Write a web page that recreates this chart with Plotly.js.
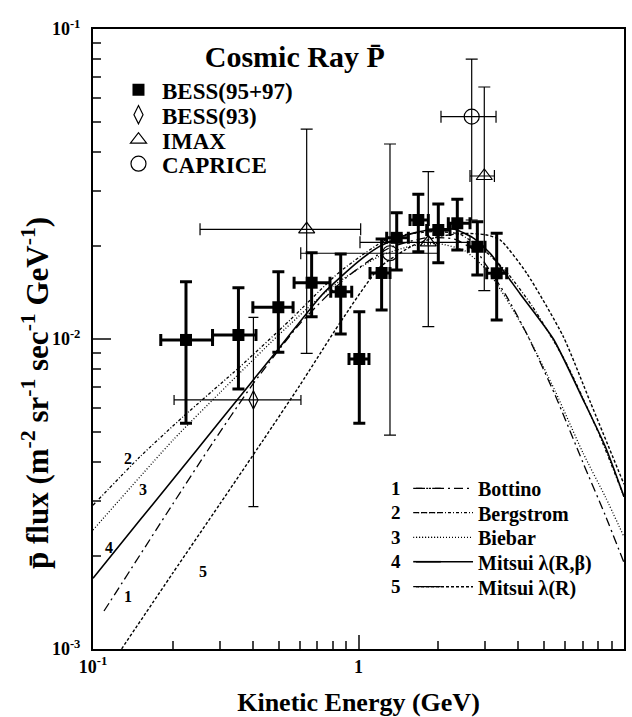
<!DOCTYPE html>
<html><head><meta charset="utf-8">
<script src="https://cdn.plot.ly/plotly-3.0.1.min.js"></script>
<style>body{margin:0;background:#fff}#chart{width:632px;height:717px}</style>
</head><body><div id="chart"></div>
<script>
// ---- BESS(95+97) ----
const bessE   = [0.224,0.353,0.499,0.666,0.857,1.007,1.222,1.393,1.680,1.998,2.356,2.803,3.315];
const bessElo = [0.180,0.282,0.400,0.572,0.786,0.921,1.105,1.277,1.563,1.807,2.179,2.592,3.040];
const bessEhi = [0.282,0.411,0.567,0.781,0.943,1.095,1.314,1.541,1.832,2.211,2.630,2.996,3.616];
const bessF   = [0.00993,0.01030,0.01266,0.01519,0.01421,0.00862,0.01633,0.02120,0.02420,0.02247,0.02362,0.01984,0.01629];
const bessFlo = [0.00535,0.00690,0.00906,0.01180,0.01038,0.00535,0.01241,0.01669,0.01913,0.01762,0.01937,0.01608,0.01151];
const bessFhi = [0.01530,0.01464,0.01649,0.01899,0.01880,0.01225,0.02100,0.02555,0.02930,0.02726,0.02822,0.02390,0.02193];
// ---- BESS(93) ----
const b93E = [0.402], b93Elo = [0.202], b93Ehi = [0.607];
const b93F = [0.00636], b93Flo = [0.00288], b93Fhi = [0.01175];
// ---- IMAX ----
const imaxE = [0.638,1.832,2.977], imaxElo = [0.253,1.013,2.630], imaxEhi = [1.019,2.630,3.250];
const imaxF = [0.02259,0.02051,0.03356], imaxFlo = [0.00899,0.01096,0.01432], imaxFhi = [0.04757,0.03465,0.06500];
// ---- CAPRICE ----
const capE = [1.314,2.669], capElo = [0.606,2.045], capEhi = [1.993,3.296];
const capF = [0.01891,0.05216], capFlo = [0.00490,0.02420], capFhi = [0.04256,0.08000];

// ---- model curves ----
const botE = [0.11,0.1159,0.2,0.2711,0.4,0.6,0.9,1.3,1.8,2.3,2.8,3.04,3.6,4.3,5.5,7,8.5,10];
const botF = [0.001326,0.001421,0.00294,0.004385,0.00715,0.01117,0.01578,0.01962,0.0212,0.0210,0.0190,0.0172,0.0138,0.0104,0.0066,0.0040,0.0027,0.0019];
const bergE = [0.1,0.1503,0.2188,0.3578,0.5521,0.8518,1.314,1.9,2.4,3.0,3.6,4.5,6,8,10];
const bergF = [0.00291,0.00417,0.00562,0.00814,0.01151,0.01649,0.0212,0.0222,0.0218,0.0192,0.0165,0.0128,0.0085,0.0050,0.0031];
const biebE = [0.1,0.2001,0.3,0.5,0.8,1.2,1.6,2.0,2.5,3.04,3.6,4.3,5.5,7,8.5,10];
const biebF = [0.00242,0.00472,0.0067,0.0103,0.0148,0.0185,0.0200,0.0203,0.0193,0.0167,0.0135,0.0104,0.0068,0.0043,0.0031,0.0023];
const mrbE = [0.1,0.15,0.2,0.3,0.5,0.735,1.0,1.2,1.5,1.9,2.3,2.7,3.13,4.06,5.42,7.0,8.5,10];
const mrbF = [0.00169,0.00260,0.00352,0.00542,0.00930,0.01400,0.01780,0.0199,0.0216,0.0226,0.0226,0.0212,0.0189,0.0140,0.0100,0.0064,0.0045,0.0031];
const mrE = [0.125,0.2,0.3,0.4377,0.6,0.85,1.2,1.6,2.0,2.5,3.0,3.41,4.3,5.9,7.5,10];
const mrF = [0.00097,0.00176,0.00293,0.00472,0.00707,0.01125,0.0170,0.0200,0.0214,0.0219,0.0217,0.0209,0.0163,0.0102,0.0062,0.0034];

// ---- ticks ----
const xTickVals = [0.1,1,10];
const xTickText = ['<b>10<sup>-1</sup></b>','<b>1</b>','<b>10</b>'];
const yTickVals = [0.001,0.01,0.1];
const yTickText = ['<b>10<sup>-3</sup></b>','<b>10<sup>-2</sup></b>','<b>10<sup>-1</sup></b>'];
const xMinor = [0.2,0.3,0.4,0.5,0.6,0.7,0.8,0.9,2,3,4,5,6,7,8,9];
const yMinor = [0.002,0.003,0.004,0.005,0.006,0.007,0.008,0.009,0.02,0.03,0.04,0.05,0.06,0.07,0.08,0.09];

const curveNums = ['1','2','3','4','5'];
const curveNames = ['Bottino','Bergstrom','Biebar','Mitsui \u03bb(R,\u03b2)','Mitsui \u03bb(R)'];
const curveDash = ['9px,4px,2px,4px','3px,2px,1px,2px','1px,2px','solid','3px,2px'];

function up(v, hi){ return hi.map((h,i)=>h-v[i]); }
function dn(v, lo){ return lo.map((l,i)=>v[i]-l); }

function pts(name, lg, E, Elo, Ehi, F, Flo, Fhi, marker, thick, cap){
  return {
    type:'scatter', mode:'markers', name:'<b>'+name+'</b>', x:E, y:F, legend:lg,
    marker: marker, cliponaxis:false,
    error_x:{type:'data', symmetric:false, array:up(E,Ehi), arrayminus:dn(E,Elo), color:'#000', thickness:thick, width:cap},
    error_y:{type:'data', symmetric:false, array:up(F,Fhi), arrayminus:dn(F,Flo), color:'#000', thickness:thick, width:cap}
  };
}
function curve(i, E, F, w){
  return {type:'scatter', mode:'lines', name:'<b>'+curveNames[i]+'</b>', x:E, y:F, legend:'legend'+(5+i),
    line:{color:'#000', width:w, dash:curveDash[i], shape:'spline', smoothing:0.6}};
}

const data = [
  curve(0, botE, botF, 1.3),
  curve(1, bergE, bergF, 1.3),
  curve(2, biebE, biebF, 1.3),
  curve(3, mrbE, mrbF, 1.6),
  curve(4, mrE, mrF, 1.4),
  pts('BESS(95+97)', 'legend', bessE, bessElo, bessEhi, bessF, bessFlo, bessFhi, {symbol:'square', size:12, color:'#000'}, 3, 6),
  pts('BESS(93)', 'legend2', b93E, b93Elo, b93Ehi, b93F, b93Flo, b93Fhi, {symbol:'diamond-tall-open', size:13, color:'#000', line:{width:1.2}}, 1.2, 5),
  pts('IMAX', 'legend3', imaxE, imaxElo, imaxEhi, imaxF, imaxFlo, imaxFhi, {symbol:'triangle-up-open', size:14, color:'#000', line:{width:1.2}}, 1.2, 6),
  pts('CAPRICE', 'legend4', capE, capElo, capEhi, capF, capFlo, capFhi, {symbol:'circle-open', size:15, color:'#000', line:{width:1.2}}, 1.2, 6)
];

// row positions (paper) for the curve key and marker key
const keyRows = [0.2592,0.2198,0.1802,0.1408,0.1005];
const mkRows = [0.9021,0.8617,0.8214,0.7827];

const annotations = curveNums.map((n,i)=>({xref:'paper', yref:'paper', x:0.571, y:keyRows[i], text:'<b>'+n+'</b>', showarrow:false, font:{size:19}, xanchor:'center', yanchor:'middle'}));
const lblPos = [[0.0659,0.0839],[0.0659,0.308],[0.0942,0.2565],[0.0301,0.1645],[0.2072,0.1242]];
curveNums.forEach((n,i)=>annotations.push({xref:'paper', yref:'paper', x:lblPos[i][0], y:lblPos[i][1], text:'<b>'+n+'</b>', showarrow:false, font:{size:16}, xanchor:'center', yanchor:'middle'}));
// y axis title (placed as in the original figure, below the axis centre)
annotations.push({xref:'paper', yref:'paper', x:-0.1092, y:0.4129, xanchor:'center', yanchor:'middle', textangle:-90, showarrow:false,
  text:'<b>p\u0304 flux (m<sup>-2</sup> sr<sup>-1</sup> sec<sup>-1</sup> GeV<sup>-1</sup>)</b>', font:{size:31}});

// extensions of the key line samples (key samples are longer than plotly's)
const shapes = curveNums.map((n,i)=>({type:'line', xref:'paper', yref:'paper', x0:0.603, x1:0.655, y0:keyRows[i], y1:keyRows[i], line:{color:'#000', width:i===3?1.6:1.3, dash:curveDash[i]}}));

const axisCommon = {type:'log', tickmode:'array', ticks:'inside', tickwidth:2, showline:true, linewidth:2, linecolor:'#000', mirror:true, showgrid:false, zeroline:false, tickfont:{size:18}};

const mkLegend = (y)=>({x:0.0414, y:y, xanchor:'left', yanchor:'middle', font:{size:23}, bgcolor:'rgba(0,0,0,0)', borderwidth:0, itemwidth:37});
const cvLegend = (y)=>({x:0.5989, y:y, xanchor:'left', yanchor:'middle', font:{size:20}, bgcolor:'rgba(0,0,0,0)', borderwidth:0, itemwidth:57});

const layout = {
  width:632, height:717,
  margin:{l:93, r:8, t:29, b:68},
  paper_bgcolor:'#fff', plot_bgcolor:'#fff',
  font:{family:'"Liberation Serif","Times New Roman",serif', color:'#000', size:18},
  title:{text:'<b>Cosmic Ray P\u0304</b>', font:{size:30}, xref:'paper', yref:'paper', x:0.38, xanchor:'center', y:0.955, yanchor:'middle'},
  xaxis:Object.assign({}, axisCommon, {range:[-1,1], tickvals:xTickVals, ticktext:xTickText, ticklen:14,
    minor:{tickmode:'array', tickvals:xMinor, ticks:'inside', ticklen:8, tickwidth:2, showgrid:false},
    title:{text:'<b>Kinetic Energy (GeV)</b>', font:{size:26}, standoff:20}}),
  yaxis:Object.assign({}, axisCommon, {range:[-3,-1], tickvals:yTickVals, ticktext:yTickText, ticklen:18, ticklabelstandoff:7,
    minor:{tickmode:'array', tickvals:yMinor, ticks:'inside', ticklen:8, tickwidth:2, showgrid:false}}),
  legend:mkLegend(mkRows[0]), legend2:mkLegend(mkRows[1]), legend3:mkLegend(mkRows[2]), legend4:mkLegend(mkRows[3]),
  legend5:cvLegend(keyRows[0]), legend6:cvLegend(keyRows[1]), legend7:cvLegend(keyRows[2]), legend8:cvLegend(keyRows[3]), legend9:cvLegend(keyRows[4]),
  annotations:annotations,
  shapes:shapes,
  showlegend:true
};

Plotly.newPlot('chart', data, layout, {displayModeBar:false, staticPlot:true});
</script>
</body></html>
